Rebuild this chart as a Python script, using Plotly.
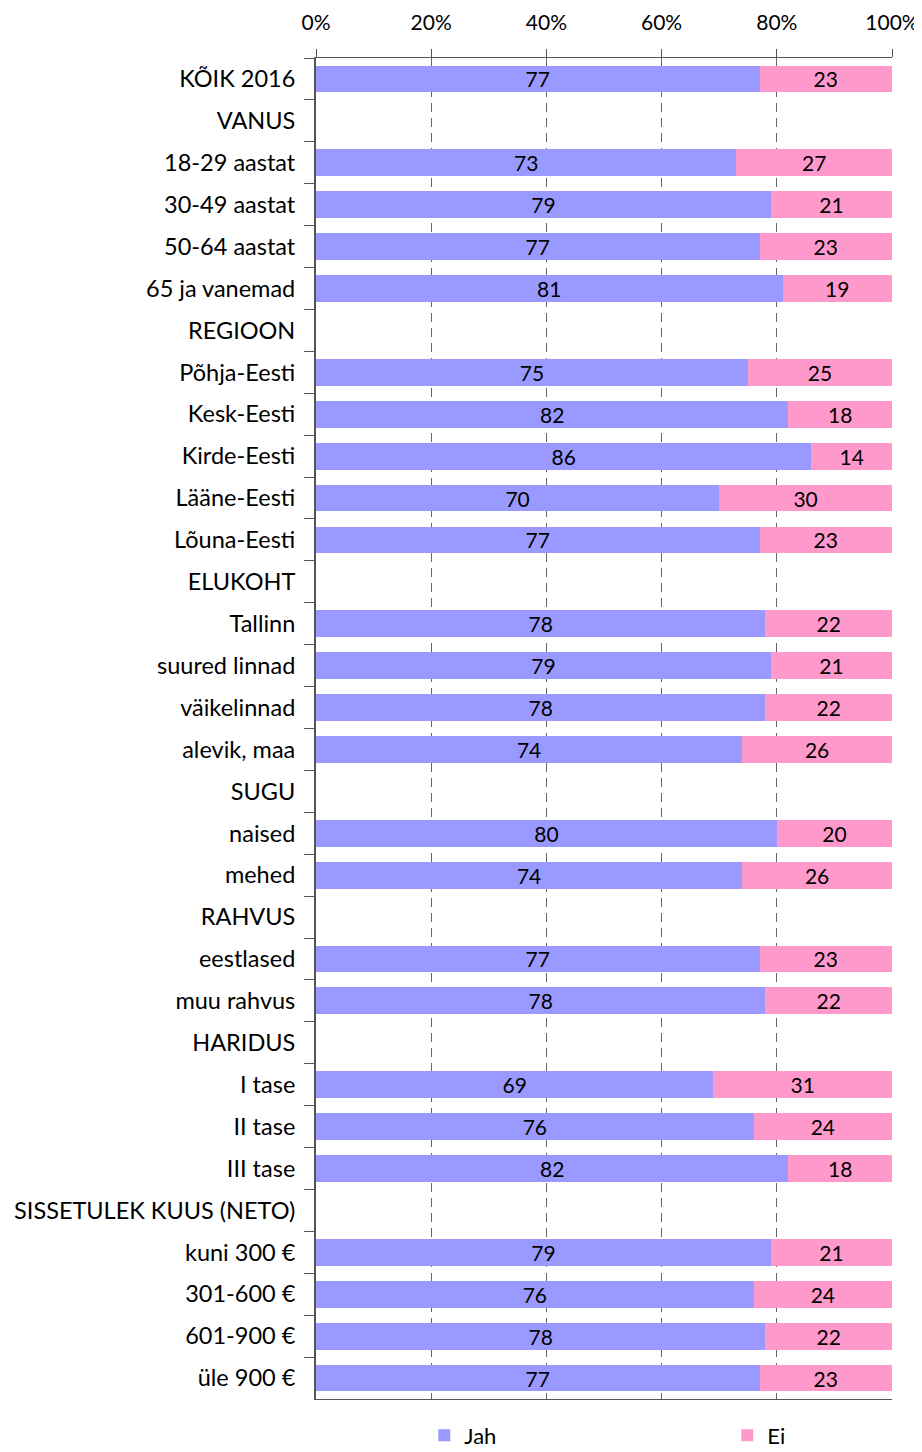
import plotly.graph_objects as go

categories = [
    "KÕIK 2016", "VANUS", "18-29 aastat", "30-49 aastat", "50-64 aastat", "65 ja vanemad",
    "REGIOON", "Põhja-Eesti", "Kesk-Eesti", "Kirde-Eesti", "Lääne-Eesti", "Lõuna-Eesti",
    "ELUKOHT", "Tallinn", "suured linnad", "väikelinnad", "alevik, maa",
    "SUGU", "naised", "mehed",
    "RAHVUS", "eestlased", "muu rahvus",
    "HARIDUS", "I tase", "II tase", "III tase",
    "SISSETULEK KUUS (NETO)", "kuni 300 €", "301-600 €", "601-900 €", "üle 900 €",
]
jah = [77, None, 73, 79, 77, 81,
       None, 75, 82, 86, 70, 77,
       None, 78, 79, 78, 74,
       None, 80, 74,
       None, 77, 78,
       None, 69, 76, 82,
       None, 79, 76, 78, 77]
ei = [23, None, 27, 21, 23, 19,
      None, 25, 18, 14, 30, 23,
      None, 22, 21, 22, 26,
      None, 20, 26,
      None, 23, 22,
      None, 31, 24, 18,
      None, 21, 24, 22, 23]
x_ticks = [0, 20, 40, 60, 80, 100]
x_tick_labels = ["0%", "20%", "40%", "60%", "80%", "100%"]

FONT = "Lato"
fig = go.Figure()
fig.add_trace(go.Bar(
    y=categories, x=jah, name="Jah", orientation="h", legend="legend",
    marker=dict(color="#9999FF", line=dict(width=0)),
    text=[("" if v is None else str(v)) for v in jah],
    textposition="inside", insidetextanchor="middle", textangle=0,
    textfont=dict(color="black", size=21, family=FONT),
    hoverinfo="x+y",
))
fig.add_trace(go.Bar(
    y=categories, x=ei, name="Ei", orientation="h", legend="legend2",
    marker=dict(color="#FF99CC", line=dict(width=0)),
    text=[("" if v is None else str(v)) for v in ei],
    textposition="inside", insidetextanchor="middle", textangle=0,
    textfont=dict(color="black", size=21, family=FONT),
    hoverinfo="x+y",
))

fig.update_layout(
    width=914, height=1444,
    barmode="stack", bargap=0.36,
    plot_bgcolor="white", paper_bgcolor="white",
    margin=dict(l=308, r=30, t=50, b=53, autoexpand=False),
    font=dict(family=FONT, size=22, color="black"),
    showlegend=True,
    uniformtext=dict(minsize=21, mode="show"),
    legend=dict(
        orientation="h", x=0.188, xanchor="left", y=-0.0272, yanchor="middle",
        font=dict(size=22, family=FONT), bgcolor="rgba(0,0,0,0)",
    ),
    legend2=dict(
        orientation="h", x=0.714, xanchor="left", y=-0.0272, yanchor="middle",
        font=dict(size=22, family=FONT), bgcolor="rgba(0,0,0,0)",
    ),
)
fig.update_xaxes(
    side="top", range=[0, 100], tickvals=x_ticks, ticktext=x_tick_labels,
    showgrid=True, gridcolor="#666666", griddash="9px,6px", gridwidth=1,
    showline=True, linecolor="#555555", linewidth=1, mirror=True,
    ticks="outside", ticklen=8, tickcolor="#555555",
    zeroline=False, tickfont=dict(size=21, family=FONT),
    ticklabelstandoff=11, automargin=False,
)
fig.update_yaxes(
    autorange="reversed", type="category",
    showline=True, linecolor="#555555", linewidth=2,
    ticks="outside", ticklen=10, tickcolor="#555555", tickson="boundaries",
    showgrid=False, tickfont=dict(size=23.5, family=FONT),
    ticklabelstandoff=14, automargin=False,
)

fig.write_html("out.html")
